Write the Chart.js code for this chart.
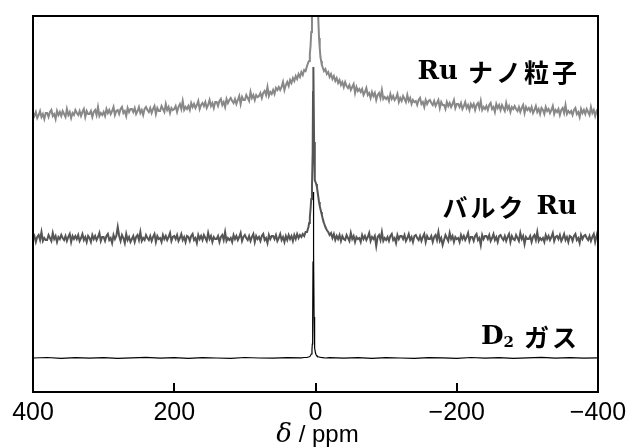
<!DOCTYPE html>
<html>
<head>
<meta charset="utf-8">
<script src="https://cdn.jsdelivr.net/npm/chart.js@4"></script>
<style>
  body { margin: 0; background: #fff; }
</style>
</head>
<body>
<canvas id="c" width="634" height="447"></canvas>
<script>
// chemical shift grid (ppm), shared by the two Ru spectra
const ppm = [
  400,398,396,394,392,390,388,386,384,382, 380,378,376,374,372,370,368,366,364,362,
  360,358,356,354,352,350,348,346,344,342, 340,338,336,334,332,330,328,326,324,322,
  320,318,316,314,312,310,308,306,304,302, 300,298,296,294,292,290,288,286,284,282,
  280,278,276,274,272,270,268,266,264,262, 260,258,256,254,252,250,248,246,244,242,
  240,238,236,234,232,230,228,226,224,222, 220,218,216,214,212,210,208,206,204,202,
  200,198,196,194,192,190,188,186,184,182, 180,178,176,174,172,170,168,166,164,162,
  160,158,156,154,152,150,148,146,144,142, 140,138,136,134,132,130,128,126,124,122,
  120,118,116,114,112,110,108,106,104,102, 100,98,96,94,92,90,88,86,84,82,
  80,78,76,74,72,70,68,66,64,62, 60,58,56,54,52,50,48,46,44,42,
  40,38,36,34,32,30,28,26,24,22,20,18,16,14,12,
  10,9,8,7,6,5,4,3.5,3,2,1,0,-1,-2,-3,-4,-5,-6,-7,-8,-9,-10,
  -12,-14,-16,-18,-20,-22,-24,-26,-28,-30,-32,-34,-36,-38,-40,
  -42,-44,-46,-48,-50,-52,-54,-56,-58,-60, -62,-64,-66,-68,-70,-72,-74,-76,-78,-80,
  -82,-84,-86,-88,-90,-92,-94,-96,-98,-100, -102,-104,-106,-108,-110,-112,-114,-116,-118,-120,
  -122,-124,-126,-128,-130,-132,-134,-136,-138,-140, -142,-144,-146,-148,-150,-152,-154,-156,-158,-160,
  -162,-164,-166,-168,-170,-172,-174,-176,-178,-180, -182,-184,-186,-188,-190,-192,-194,-196,-198,-200,
  -202,-204,-206,-208,-210,-212,-214,-216,-218,-220, -222,-224,-226,-228,-230,-232,-234,-236,-238,-240,
  -242,-244,-246,-248,-250,-252,-254,-256,-258,-260, -262,-264,-266,-268,-270,-272,-274,-276,-278,-280,
  -282,-284,-286,-288,-290,-292,-294,-296,-298,-300, -302,-304,-306,-308,-310,-312,-314,-316,-318,-320,
  -322,-324,-326,-328,-330,-332,-334,-336,-338,-340, -342,-344,-346,-348,-350,-352,-354,-356,-358,-360,
  -362,-364,-366,-368,-370,-372,-374,-376,-378,-380, -382,-384,-386,-388,-390,-392,-394,-396,-398,-400
];

// Ru nanoparticles (offset trace, top)
const ruNano = [
  279,276,280,274,277,281,275,278,273,279, 279,275,280,282,276,278,273,281,277,280,
  276,281,278,275,283,277,280,274,279,277, 282,279,277,281,276,280,283,275,281,278,
  278,281,275,280,282,277,285,276,279,277, 280,276,283,279,282,278,281,285,277,281,
  282,278,283,285,279,281,276,284,280,283, 283,280,284,278,281,285,279,282,277,283,
  285,282,280,284,279,283,286,278,284,281, 281,286,283,280,288,282,285,279,284,282,
  283,286,280,285,288,283,291,282,285,283, 286,282,289,285,288,284,287,291,283,287,
  289,286,290,284,287,292,286,289,284,290, 290,286,291,293,287,290,285,293,289,292,
  294,291,289,293,288,292,296,288,295,292, 292,297,294,291,300,294,297,292,297,295,
  296,299,294,299,301,297,305,296,300,298, 302,298,304,302,305,302,305,310,302,307,
  310,306,312,309,314,311,316,313,318,315,320,317,322,321,326,
  330,331,338,346,360,385,420,430,440,440,440,440,440,420,395,372,354,344,335,331,327,325,
  321,323,318,320,315,318,313,316,311,314,309,312,307,310,305,
  310,306,304,307,302,305,308,299,305,301, 303,300,303,297,300,304,297,299,294,300,
  296,299,292,297,299,294,302,293,295,293, 295,291,298,293,296,292,294,298,290,294,
  291,296,293,290,297,291,294,288,292,290, 291,287,292,294,288,290,285,292,288,291,
  292,289,287,291,286,289,292,284,290,287, 287,283,290,286,289,285,288,292,284,288,
  288,285,289,283,286,290,284,287,282,288, 285,288,282,287,289,284,291,282,285,283,
  286,282,287,289,283,285,280,288,284,287, 282,287,284,281,289,283,286,280,285,283,
  286,283,281,285,280,284,287,279,285,282, 284,281,285,279,282,286,280,283,278,284,
  282,278,285,281,283,279,282,286,278,282, 280,283,277,282,284,279,287,278,281,279,
  281,277,282,284,278,280,275,283,279,282, 278,283,280,277,285,279,282,276,281,279
];

// bulk Ru (middle trace)
const ruBulk = [
  153,156,150,155,157,152,160,151,154,152, 152,157,154,151,159,153,156,150,155,153,
  157,154,152,156,151,155,158,150,156,153, 156,153,157,151,154,158,152,155,150,156,
  154,150,157,153,156,152,155,159,151,155, 155,151,156,158,152,154,149,157,153,156,
  165,156,151,157,154,149,158,152,155,150, 153,156,150,155,157,152,160,151,154,152,
  157,154,152,156,151,155,158,150,156,153, 154,150,157,153,156,152,155,159,151,155,
  156,153,157,151,154,158,152,155,150,156, 155,151,156,158,152,154,149,157,153,156,
  152,157,154,151,159,153,156,150,155,153, 153,156,150,155,157,152,160,151,154,152,
  154,150,157,153,156,152,155,159,151,155, 157,154,152,156,151,155,158,150,156,153,
  155,151,156,158,152,154,149,157,153,156, 156,153,157,151,154,158,152,155,150,156,
  152,157,153,156,151,157,153,158,154,157,155,158,156,160,160,
  165,169,175,183,193,205,240,300,325,250,212,210,208,205,200,195,190,186,183,180,177,174,
  169,165,162,160,157,159,154,158,152,156,153,157,151,156,153,
  152,157,154,151,159,153,156,150,155,153, 154,150,157,153,156,152,155,159,151,155,
  153,156,146,155,157,152,160,151,154,152, 155,151,156,158,152,154,149,157,153,156,
  156,153,157,151,154,158,152,155,150,156, 157,154,152,156,151,155,158,150,156,153,
  153,156,150,155,157,152,160,151,154,147, 152,157,154,151,159,153,156,150,155,153,
  154,150,157,153,156,152,155,159,151,155, 155,151,156,158,152,154,147,157,153,156,
  156,153,157,151,154,158,152,155,150,156, 157,154,152,156,151,155,158,150,156,153,
  152,157,154,151,159,153,156,148,155,153, 153,156,150,155,157,152,160,151,154,152,
  154,150,157,153,156,152,155,159,151,155, 156,153,157,151,154,158,152,155,150,156,
  155,151,156,158,152,154,149,157,153,156, 157,154,152,156,151,155,158,150,156,162
];

// D2 gas (bottom trace), its own grid
const ppmGas = [
  400,380,360,340,320,300,280,260,240,220,200,180,160,140,120,100,80,60,40,20,
  16,12,10,8,7,6,5,4.5,4,3.5,3,2.5,2,1.5,1,0,-1,-2,-3,-4,-6,-8,-10,-14,-20,
  -40,-60,-80,-100,-120,-140,-160,-180,-200,-220,-240,-260,-280,-300,-320,-340,-360,-380,-400
];
const d2Gas = [
  34,34.5,33.6,34.3,33.8,34.4,33.7,34.2,34.6,33.9,34.3,33.6,34.4,34,33.7,34.5,34,33.8,34.4,34.2,
  34.5,34.6,35,35.5,36.5,38,42,48,70,130,200,140,75,52,44,39,37,36,35.5,35.2,34.8,34.5,34.4,34,34.3,
  33.8,34.3,33.7,34.4,34,33.6,34.4,34.1,33.7,34.5,33.9,34.3,33.6,34.2,34.6,33.8,34.3,33.9,34.2
];

const xTicks = [400, 200, 0, -200, -400];

const labels = [
  { y: 72,  right: 580, parts: [["Ru", "serif"], ["ナノ粒子", "jp"]] },
  { y: 207, right: 577, parts: [["バルク", "jp"], ["Ru", "serif"]] },
  { y: 337, right: 580, parts: [["D", "serif"], ["2", "sub"], ["ガス", "jp"]] }
];

const fonts = {
  serif: "bold 26px 'DejaVu Serif'",
  sub: "bold 15px 'DejaVu Serif'",
  jp: "bold 25px 'Noto Sans CJK JP'"
};

function pts(xs, ys) {
  return xs.map((x, i) => ({ x: x, y: ys[i] }));
}

const framePlugin = {
  id: "frame",
  afterDatasetsDraw(chart) {
    const ctx = chart.ctx;
    const a = chart.chartArea;
    const sx = chart.scales.x;
    ctx.save();
    ctx.strokeStyle = "#000";
    ctx.lineWidth = 2;
    ctx.strokeRect(a.left, a.top, a.right - a.left, a.bottom - a.top);
    // inward tick marks
    xTicks.forEach((v) => {
      const px = Math.round(sx.getPixelForValue(v));
      ctx.beginPath();
      ctx.moveTo(px, a.bottom);
      ctx.lineTo(px, a.bottom - 9);
      ctx.stroke();
    });

    // trace labels
    ctx.fillStyle = "#000";
    ctx.textBaseline = "middle";
    labels.forEach((lb) => {
      let total = 0;
      const widths = lb.parts.map(([t, f], i) => {
        ctx.font = fonts[f];
        ctx.letterSpacing = f === "jp" ? "3px" : "0px";
        const next = lb.parts[i + 1];
        const gap = next && (f === "jp" || next[1] === "jp") ? 10 : 0;
        const w = ctx.measureText(t).width + gap;
        total += w;
        return w;
      });
      let x = lb.right - total;
      lb.parts.forEach(([t, f], i) => {
        ctx.font = fonts[f];
        ctx.letterSpacing = f === "jp" ? "3px" : "0px";
        ctx.fillText(t, x, f === "sub" ? lb.y + 6 : lb.y);
        x += widths[i];
      });
    });
    ctx.letterSpacing = "0px";

    // axis title
    ctx.textBaseline = "alphabetic";
    ctx.font = "italic 26px 'DejaVu Serif'";
    const d = "δ";
    const rest = " / ppm";
    const w1 = ctx.measureText(d).width;
    ctx.font = "24px 'Liberation Sans'";
    const w2 = ctx.measureText(rest).width;
    const cx = (a.left + a.right) / 2 + 2;
    const x0 = cx - (w1 + w2) / 2;
    ctx.font = "italic 26px 'DejaVu Serif'";
    ctx.fillText(d, x0, 442);
    ctx.font = "24px 'Liberation Sans'";
    ctx.fillText(rest, x0 + w1, 442);
    ctx.restore();
  }
};

new Chart(document.getElementById("c").getContext("2d"), {
  type: "line",
  data: {
    datasets: [
      {
        label: "D2 gas",
        data: pts(ppmGas, d2Gas),
        borderColor: "#000000",
        borderWidth: 1.2,
        pointRadius: 0,
        tension: 0,
        clip: 0
      },
      {
        label: "bulk Ru",
        data: pts(ppm, ruBulk),
        borderColor: "#555555",
        borderWidth: 2,
        pointRadius: 0,
        tension: 0,
        clip: 0
      },
      {
        label: "Ru nano",
        data: pts(ppm, ruNano),
        borderColor: "#888888",
        borderWidth: 2,
        pointRadius: 0,
        tension: 0,
        clip: 0
      }
    ]
  },
  options: {
    responsive: false,
    animation: false,
    layout: { padding: { left: 33, right: 36, top: 16, bottom: 0 } },
    plugins: { legend: { display: false }, tooltip: { enabled: false } },
    scales: {
      x: {
        type: "linear",
        reverse: true,
        min: -400,
        max: 400,
        afterBuildTicks: (s) => { s.ticks = xTicks.map((v) => ({ value: v })); },
        afterFit: (s) => { s.height = 55; },
        grid: { display: false, drawTicks: false },
        border: { display: false },
        ticks: {
          padding: 6,
          color: "#000",
          font: { family: "'Liberation Sans'", size: 25 },
          maxRotation: 0,
          callback: (v) => (v < 0 ? "\u2212" + Math.abs(v) : String(v))
        }
      },
      y: {
        display: false,
        min: 0,
        max: 376
      }
    }
  },
  plugins: [framePlugin]
});
</script>
</body>
</html>
